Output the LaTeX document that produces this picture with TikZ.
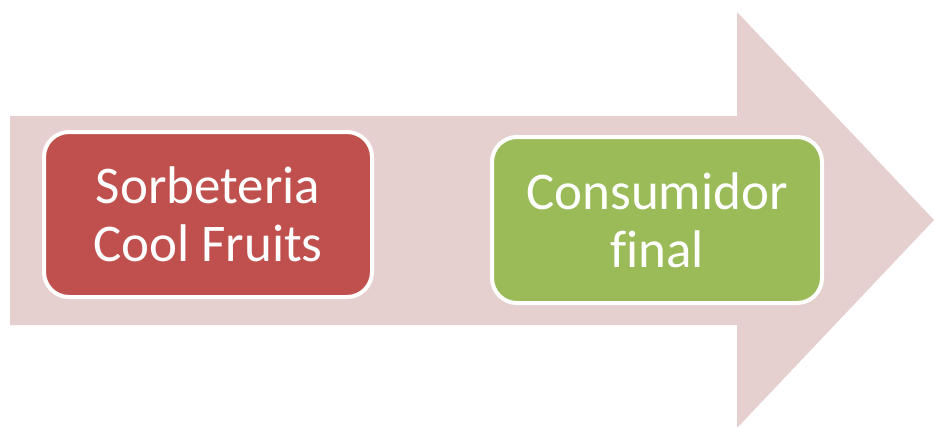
\documentclass[tikz,border=0pt]{standalone}
\usepackage{fontspec}
\setmainfont{Carlito}[Ligatures=CommonOff]
\definecolor{arrowpink}{RGB}{230,207,207}
\definecolor{boxred}{RGB}{192,80,77}
\definecolor{boxgreen}{RGB}{155,187,89}
\begin{document}
\begin{tikzpicture}[x=1pt,y=-1pt,
  stagebox/.style={draw=white, line width=4pt, rounded corners=25pt, text=white,
    align=center, inner sep=0pt, font=\fontsize{53}{58}\selectfont}]
\useasboundingbox (0,0) rectangle (934,426);
% big arrow behind the boxes
\fill[arrowpink] (10,116) -- (737,116) -- (737,12) -- (934,220) -- (737,428) -- (737,325) -- (10,325) -- cycle;
\node[stagebox, fill=boxred, minimum width=328pt, minimum height=165pt] (sorbeteria) at (208,214.5) {Sorbeteria\\Cool Fruits};
\node[stagebox, fill=boxgreen, minimum width=330pt, minimum height=166pt] (consumidor) at (657,220) {Consumidor\\final};
\end{tikzpicture}
\end{document}
